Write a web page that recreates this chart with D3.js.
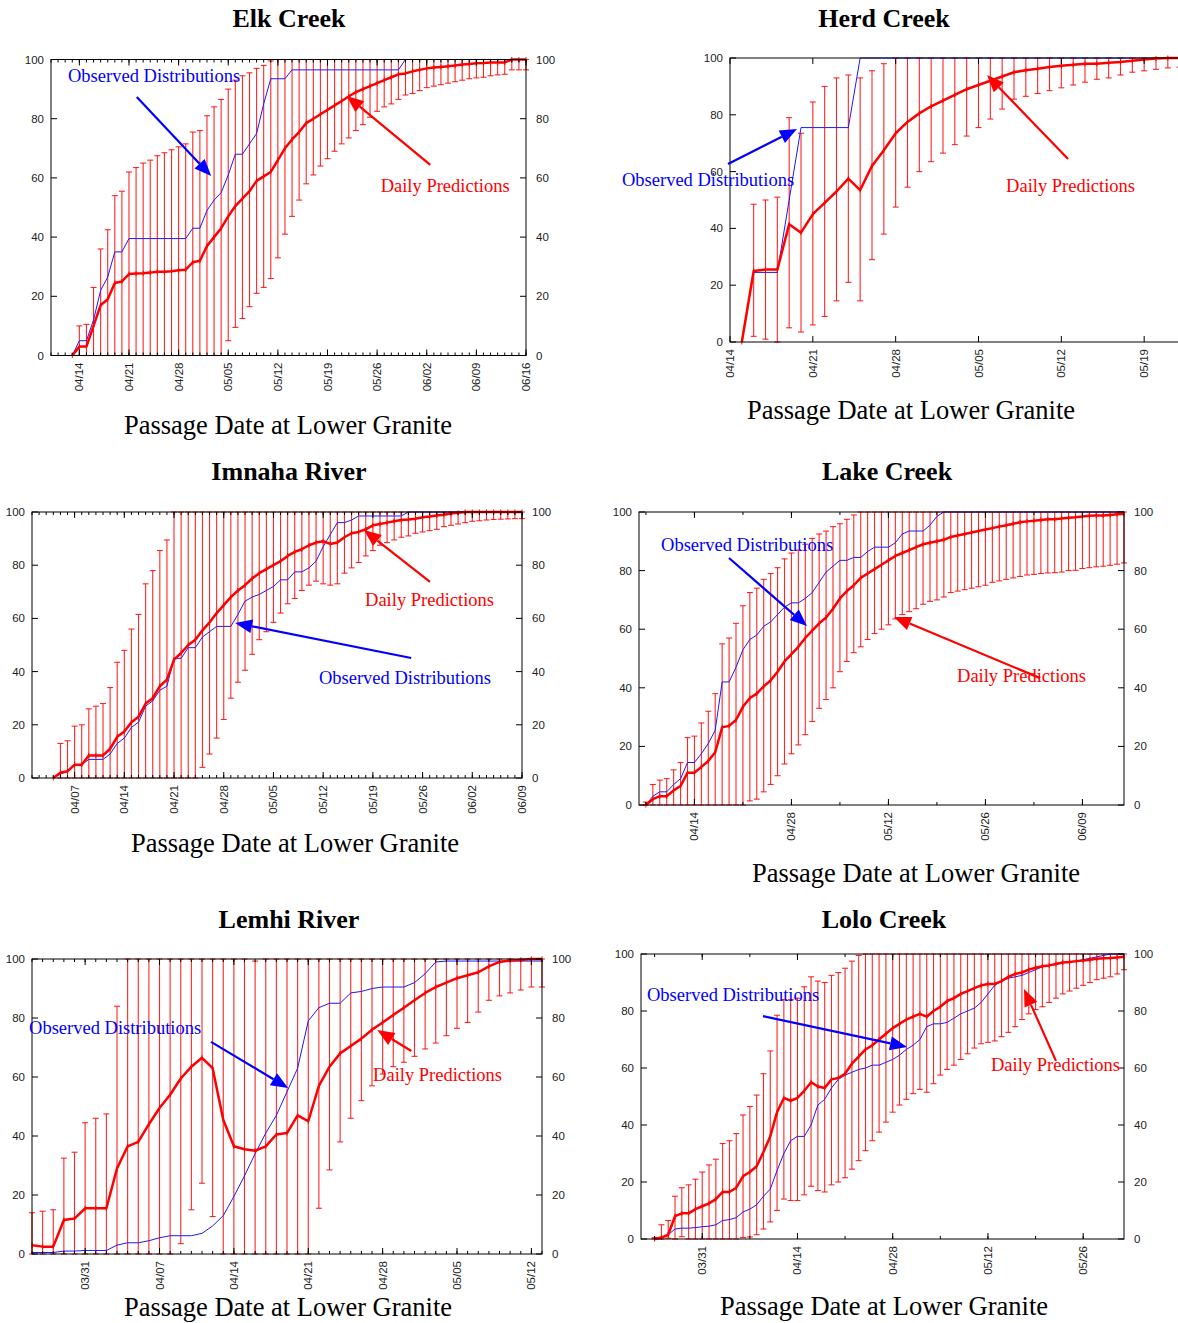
<!DOCTYPE html>
<html><head><meta charset="utf-8">
<script src="https://cdn.jsdelivr.net/npm/d3@7"></script>
<style>body{margin:0;background:#fff;overflow:hidden} svg{display:block}</style>
</head><body><svg id="c" width="1178" height="1323"></svg>
<script>
// ---------------- DATA ----------------
const yTicks = [0, 20, 40, 60, 80, 100];

// Elk Creek (daily from 04/13)
const elkStart = "04/13";
const elkTicks = ["04/14","04/21","04/28","05/05","05/12","05/19","05/26","06/02","06/09","06/16"];
const elkPred = [0,3,3,10,17,19,24.5,25,27.5,27.7,27.8,28,28.3,28.3,28.5,28.8,29,31.5,
  32,37,40,43,47,50.5,53,55.5,59,60.5,62,66,70,73,75.5,78.5,80,81.5,83,84.5,86,87.5,89,90,91,92,93,94,95,95.3,96,
  96.5,97,97.3,97.5,97.7,98,98.3,98.5,98.7,98.8,99,99,99,100,100,100];
const elkUpper = [0,10,10.5,23,36,42.5,54,55.5,62,63.5,65,66,67.5,68.5,69.5,70.5,71.5,75.5,
  76,81,84,86.5,90,93,94.5,95.5,97,98,99.5,100,100,100,100,100,100,100,100,100,100,100,100,100,100,100,100,100,100,100,100,
  100,100,100,100,100,100,100,100,100,100,100,100,100,100,100,100];
const elkLower = [0,0,0,0,0,0,0,0,0,0,0,0,0,0,0,0,0,0,
  0,0,0,0,5,9.5,12.5,16.5,21,23,26,33,41,47,52.5,58,61,64,66.5,69,71.5,73.5,76,78,80.5,82.5,84,85,86.5,88,88.5,
  89.5,90.5,91,91.5,92,92.5,93,93.5,93.8,94,94.5,94.8,95,96.5,96.5,96.5];
const elkObs = [0,5,5,12,22,26.5,35,35,39.5,39.5,39.5,39.5,39.5,39.5,39.5,39.5,39.5,43,
  43,49,52.5,55,61,68,68,71.5,75,85,93.5,93.5,93.5,96.5,96.5,96.5,96.5,96.5,96.5,96.5,96.5,96.5,96.5,96.5,96.5,96.5,96.5,96.5,96.5,100,100,
  100,100,100,100,100,100,100,100,100,100,100,100,100,100,100,100];

// Herd Creek (daily from 04/15)
const herdStart = "04/15";
const herdTicks = ["04/14","04/21","04/28","05/05","05/12","05/19","05/26"];
const herdPred = [0,25,25.5,25.5,41.5,38.5,45,49,53,57.5,53.5,62,67.5,73.5,77.5,80.5,
  83,85,87,89,90.5,92,93.5,95,95.7,96.2,96.8,97.3,97.6,98,98,98.3,98.6,99,99.5,99.8,100,100];
const herdUpper = [0,48.5,50,51,79,73.5,84.5,90,93,94,93,95.5,98,100,100,100,
  100,100,100,100,100,100,100,100,100,100,100,100,100,100,100,100,100,100,100,100,100,100];
const herdLower = [0,2,1,0,5,3.5,6,9,14.5,21,14.5,29,38,47.5,54.5,60,
  63.5,66.5,69.5,72.5,75.5,78.5,82,85.5,86.5,87.5,88.5,89.5,90.5,91.5,92.5,93,94,95,95.5,96,96.5,96.8];
const herdObs = [null,24.5,24.5,24.5,50,75.5,75.5,75.5,75.5,75.5,100,100,100,100,100,100,
  100,100,100,100,100,100,100,100,100,100,100,100,100,100,100,100,100,100,100,100,100,100];

// Imnaha River (daily from 04/04)
const imnStart = "04/04";
const imnTicks = ["04/07","04/14","04/21","04/28","05/05","05/12","05/19","05/26","06/02","06/09"];
const imnPred = [0,2,2.5,5,5,8.5,8.5,8.5,11,15.5,17.5,21,23,28,30,34.5,37,44.5,47,50,52,55.5,58.5,62,65,68,70.5,
  72.5,75,77,78.5,80,81.5,83.5,85,86,87.5,88.5,89,88,88.5,90.5,92,92.5,93.5,95,95.5,96,96.5,97,97.2,97.5,98,98.3,98.7,99,99.4,99.7,
  100,100,100,100,100,100,100,100,100];
const imnUpper = [0,13,14,19.5,20,26,27,28,34,43.5,48,56,61.5,73,78,85.5,89.5,100,100,100,100,100,100,100,100,100,100,
  100,100,100,100,100,100,100,100,100,100,100,100,100,100,100,100,100,100,100,100,100,100,100,100,100,100,100,100,100,100,100,
  100,100,100,100,100,100,100,100,100];
const imnLower = [0,0,0,0,0,0,0,0,0,0,0,0,0,0,0,0,0,0,0,0,0,4,9,15,22,30,36,
  40.5,46.5,52,55,58.5,62,65.5,67.5,70.5,72.5,74,73,72.5,73,77,79,81,83.5,85.5,87.5,88.5,89.5,90.5,91,92,92.5,93,93.5,94.5,95,95.5,
  96,96.5,96.7,97,97.2,97.3,97.4,97.5,97.5];
const imnObs = [0,1.5,2.5,5,5,7,7,7,9,13,15,19,21,27,29,33,34.5,45,45,49,49,53,55,57,57,57,61.5,
  66.5,68,69,70.5,72,74.5,74.5,77.5,77.5,79,81.5,87,91.5,96,96,97,98.5,98.5,98.5,98.5,98.5,98.5,98.5,100,100,100,100,100,100,100,100,
  100,100,100,100,100,100,100,100,100];

// Lake Creek (daily from 04/07)
const lakeStart = "04/07";
const lakeTicks = ["04/14","04/28","05/12","05/26","06/09"];
const lakePred = [0,2,3,3,5,6.5,11,11,13,15,18,26.5,27,29,33.5,36.5,38,40.5,42.5,45.5,49,51.5,54,57,
  59.5,62,64,67,70.5,73,75,77.5,79,80.5,82,83.5,85,86,87,88,89,89.5,90,90.5,91.5,92,92.5,93,93.5,94,94.5,95,95.5,96,96.5,
  96.8,97,97.3,97.5,97.5,97.8,98,98.2,98.5,98.7,98.8,98.8,99,99.2,99.3];
const lakeUpper = [1,7,8.5,9,12,14.5,23,23.5,28,32,38,55,57,62,68,72.5,74,77,79,81,84,86,87,89,
  91,92.5,93.5,95,96,97.5,99,100,100,100,100,100,100,100,100,100,100,100,100,100,100,100,100,100,100,100,100,100,100,100,100,
  100,100,100,100,100,100,100,100,100,100,100,100,100,100,100];
const lakeLower = [0,0,0,0,0,0,0,0,0,0,0,0,0,0,0,1.4,2,4.5,7,10,14,17.5,20.5,24,
  28.5,33,36,40,45.5,49,52,54,56.5,58.5,60,61.5,63.5,65,66,67,68.5,69.5,70,71,72.5,73,73.5,74,74.5,75,76,76.5,77,77.5,78,
  78.5,78.7,79,79.2,79.3,79.5,80,80.1,80.7,81,81.3,81.5,81.8,82.2,82.6];
const lakeObs = [0,3,4.5,4.5,7,9,14.5,14.5,17.5,21,25.5,42,42,47,53,56.5,58,61,62.5,65,67.5,69,69,70.5,
  72.5,76,79.5,81.5,83.5,83.5,84.5,84.5,86.5,88,88,88,89.5,92.5,93.5,93.5,93.5,95.5,98.5,100,100,100,100,100,100,100,100,100,100,100,100,
  100,100,100,100,100,100,100,100,100,100,100,100,100,100,100];

// Lemhi River (daily from 03/26)
const lemStart = "03/26";
const lemTicks = ["03/31","04/07","04/14","04/21","04/28","05/05","05/12"];
const lemPred = [3,2.5,2.5,11.5,12,15.5,
  15.5,15.5,29,36.5,38,44,49.5,54,59.5,63.5,66.5,63,45.5,36.5,35.5,35,36.5,40.5,41,47,45,57,63.5,68,70.5,73,76,78.5,81,83.5,
  86,88.5,90.5,92,93.5,94.5,95.5,97.5,99,99.5,99.7,100,100];
const lemUpper = [14,14.5,15,32.5,34.5,44.5,
  46,47.5,84,100,100,100,100,100,100,100,100,100,100,100,100,99.3,100,100,100,100,100,100,100,100,100,100,100,100,100,100,
  100,100,100,100,100,100,100,100,100,100,100,100,100];
const lemLower = [0,0,0,0,0,0,
  0,0,0,0,0,0,0,0,3.5,15,24,12.7,0,0,0,0,0,0,0,0,0,15.5,28.5,38,46,52,57,61,63.5,65,
  67,69.5,71.5,74,76.5,78.5,82,86,87.5,88.5,89.5,90.5,90.5];
const lemObs = [0.5,0.5,0.5,1,1,1.2,
  1.2,1.2,3,3.8,3.8,4.5,5.5,6.2,6.2,6.2,7,9.5,13,19.5,26.5,34,41,47,55,63,79,83.5,85,85,88.5,89,90,90.5,90.5,90.5,
  92,95,99,99.3,99.3,99.3,99.3,99.3,99.3,99.3,99.3,99.3,99.3];

// Lolo Creek (daily from 03/24)
const loloStart = "03/24";
const loloTicks = ["03/31","04/14","04/28","05/12","05/26"];
const loloPred = [0,0.5,1.5,8,9,9,10.5,11.5,
  12.5,14,16.5,16.5,18,22,23.5,25.5,30.5,36,44.5,49.5,48.5,49.5,52,55,53.5,53,56,56.5,58,61.5,64,66.5,68,70,72,74,75.5,77,
  78,79,78,80,81.5,83.5,84.5,86,87,88,89,89.5,89.5,90.5,92,93,93.5,94.5,95.2,95.7,96,96.5,97,97.2,97.5,97.7,98,98.3,98.5,98.6,98.8,
  99];
const loloUpper = [0.5,5,6.5,15,18,19,21,23.5,
  26,28,33.5,34.5,37,43.5,46.5,50.5,58,66,78.5,84,84,84.5,88.5,92,90.5,90,92.5,93.5,95,97.5,99.5,100,100,100,100,100,100,100,
  100,100,100,100,100,100,100,100,100,100,100,100,100,100,100,100,100,100,100,100,100,100,100,100,100,100,100,100,100,100,100,
  100];
const loloLower = [0,0,0.3,0,0.8,0,0,0,
  0,0,0,0,0,0.5,0.7,1.5,3.5,6,10,14,13.5,13.5,15.5,18.5,17,16.5,19,20,21.5,24.5,27.5,31,34.5,37.5,41,44.5,47,49,
  51,52.5,51.5,54.5,57.5,59.5,61,63,65,67,68.5,69,69.5,71,72.5,74.5,77,79,80.5,81.5,83,84.5,86,87,88,89,90,91,91.5,92,93,
  94.5];
const loloObs = [0,0.3,1.5,3.5,3.8,3.8,4,4.3,
  4.5,5,6.5,6.8,7.5,9.5,10.5,12,15,17.5,24,30,34.5,36,36,40,47,49,53,56,57.5,58.5,59.5,60,61,61,62,63,64.5,66.5,
  68,70,74.5,75.5,75.5,76,77.5,79,80,81,83,86,89,90.5,91.5,92,92.5,93.5,94.5,95.5,96,96.5,97,97.2,97.5,98,98.5,99,99.5,100,100,
  100];

// ---------------- LAYOUT ----------------
const W_PAGE = 1178;
const SERIF = "'Liberation Serif','Times New Roman',Times,serif";
const SANS = "'Liberation Sans',Helvetica,Arial,sans-serif";
const panels = [
  {title:"Elk Creek", tx:289, ty:18, lx:288, ly:425, box:[51,59.5,526,355.5], dom:["04/10","06/16"],
   start:elkStart, ticks:elkTicks, minor:1, pred:elkPred, up:elkUpper, lo:elkLower, obs:elkObs,
   oT:[2.4,94.4], oA:[12.1,87.3,22.6,60.6], pT:[46.5,57.3], pA:[53.5,64.4,41.7,87.7]},
  {title:"Herd Creek", tx:884, ty:18, lx:911, ly:410, box:[730,58,1227,342], dom:["04/14","05/26"],
   start:herdStart, ticks:herdTicks, minor:0, pred:herdPred, up:herdUpper, lo:herdLower, obs:herdObs,
   oT:[-9.13,57.0], oA:[-0.17,62.7,5.66,75.0], pT:[23.33,54.9], pA:[28.57,64.4,21.72,94.0]},
  {title:"Imnaha River", tx:289, ty:471, lx:295, ly:843, box:[32,512,522,778], dom:["04/01","06/09"],
   start:imnStart, ticks:imnTicks, minor:1, pred:imnPred, up:imnUpper, lo:imnLower, obs:imnObs,
   oT:[40.4,37.6], oA:[53.4,45.1,28.6,58.3], pT:[46.9,66.9], pA:[56.05,73.7,46.75,93.2]},
  {title:"Lake Creek", tx:887, ty:471, lx:916, ly:873, box:[639,512,1124,805], dom:["04/06","06/15"],
   start:lakeStart, ticks:lakeTicks, minor:7, pred:lakePred, up:lakeUpper, lo:lakeLower, obs:lakeObs,
   oT:[3.18,88.7], oA:[12.99,84.3,24.25,61.1], pT:[45.9,44.0], pA:[57.9,43.3,36.8,64.2]},
  {title:"Lemhi River", tx:289, ty:919, lx:288, ly:1307, box:[32,959,542,1254], dom:["03/26","05/13"],
   start:lemStart, ticks:lemTicks, minor:1, pred:lemPred, up:lemUpper, lo:lemLower, obs:lemObs,
   oT:[-0.28,76.6], oA:[16.85,71.9,24.1,56.3], pT:[32.1,60.7], pA:[35.7,68.8,32.5,75.9]},
  {title:"Lolo Creek", tx:884, ty:919, lx:884, ly:1306, box:[641,954,1124,1239], dom:["03/22","06/01"],
   start:loloStart, ticks:loloTicks, minor:7, pred:loloPred, up:loloUpper, lo:loloLower, obs:loloObs,
   oT:[0.88,85.6], oA:[17.93,78.2,39.1,67.4], pT:[51.45,61.05], pA:[61.0,62.5,56.3,87.7]}
];

const CUM = [0,31,59,90,120,151,181,212];
function dayNum(s){ const [m,d] = s.split("/").map(Number); return CUM[m-1] + d; }

const svg = d3.select("#c");

function arrow(g, x1, y1, x2, y2, color){
  const a = Math.atan2(y2-y1, x2-x1), L = 17, W = 7;
  const bx = x2 - L*Math.cos(a), by = y2 - L*Math.sin(a);
  g.append("line").attr("x1",x1).attr("y1",y1).attr("x2",bx).attr("y2",by)
    .attr("stroke",color).attr("stroke-width",2.2);
  g.append("path")
    .attr("d",`M${x2},${y2}L${bx+W*Math.sin(a)},${by-W*Math.cos(a)}L${bx-W*Math.sin(a)},${by+W*Math.cos(a)}Z`)
    .attr("fill",color);
}

panels.forEach(p => {
  const [x0,y0,x1,y1] = p.box;
  const d0 = dayNum(p.dom[0]), d1 = dayNum(p.dom[1]);
  const x = d3.scaleLinear().domain([d0,d1]).range([x0,x1]);
  const y = d3.scaleLinear().domain([0,100]).range([y1,y0]);
  const s0 = dayNum(p.start);
  const g = svg.append("g");

  // title & axis label
  g.append("text").attr("x",p.tx).attr("y",p.ty).attr("dy","0.33em").attr("text-anchor","middle")
    .attr("font-family",SERIF).attr("font-weight","bold").attr("font-size",26).text(p.title);
  g.append("text").attr("x",p.lx).attr("y",p.ly).attr("dy","0.33em").attr("text-anchor","middle")
    .attr("font-family",SERIF).attr("font-size",26.5).text("Passage Date at Lower Granite");

  // error bars
  const eb = g.append("g").attr("stroke","#ff0000").attr("stroke-width",1.1).attr("stroke-opacity",0.85);
  p.pred.forEach((v,i) => {
    const lo = p.lo[i], up = p.up[i];
    if (up <= lo) return;
    const xx = x(s0+i);
    eb.append("line").attr("x1",xx).attr("x2",xx).attr("y1",y(lo)).attr("y2",y(up));
    eb.append("line").attr("x1",xx-3).attr("x2",xx+3).attr("y1",y(lo)).attr("y2",y(lo));
    eb.append("line").attr("x1",xx-3).attr("x2",xx+3).attr("y1",y(up)).attr("y2",y(up));
  });

  // observed line
  g.append("path").datum(p.obs)
    .attr("d", d3.line().defined(v => v != null).x((v,i) => x(s0+i)).y(v => y(v)))
    .attr("fill","none").attr("stroke","#1a1aff").attr("stroke-width",1);

  // prediction line
  g.append("path").datum(p.pred)
    .attr("d", d3.line().x((v,i) => x(s0+i)).y(v => y(v)))
    .attr("fill","none").attr("stroke","#ff0000").attr("stroke-width",2.5).attr("stroke-linejoin","round");
  const mk = g.append("g").attr("stroke","#ff0000").attr("stroke-width",1);
  p.pred.forEach((v,i) => {
    const xx = x(s0+i), yy = y(v);
    mk.append("line").attr("x1",xx).attr("x2",xx).attr("y1",yy-2.5).attr("y2",yy+2.5);
  });

  // frame (on top of data, like the reference)
  g.append("rect").attr("x",x0).attr("y",y0).attr("width",x1-x0).attr("height",y1-y0)
    .attr("fill","none").attr("stroke","#000").attr("stroke-width",1);

  // y ticks both sides
  yTicks.forEach(t => {
    const yy = y(t);
    g.append("line").attr("x1",x0).attr("x2",x0+6).attr("y1",yy).attr("y2",yy).attr("stroke","#000");
    g.append("line").attr("x1",x1).attr("x2",x1-6).attr("y1",yy).attr("y2",yy).attr("stroke","#000");
    g.append("text").attr("x",x0-7).attr("y",yy).attr("dy","0.35em").attr("text-anchor","end")
      .attr("font-family",SANS).attr("font-size",11.5).attr("fill","#222").text(t);
    if (x1 + 10 < W_PAGE)
      g.append("text").attr("x",x1+10).attr("y",yy).attr("dy","0.35em").attr("text-anchor","start")
        .attr("font-family",SANS).attr("font-size",11.5).attr("fill","#222").text(t);
  });

  // minor x ticks
  if (p.minor > 0) {
    let first = dayNum(p.ticks[0]);
    while (first - p.minor >= d0) first -= p.minor;
    for (let d = first; d <= d1; d += p.minor) {
      const xx = x(d);
      g.append("line").attr("x1",xx).attr("x2",xx).attr("y1",y1).attr("y2",y1-3).attr("stroke","#000");
      g.append("line").attr("x1",xx).attr("x2",xx).attr("y1",y0).attr("y2",y0+3).attr("stroke","#000");
    }
  }
  // major x ticks + labels
  p.ticks.forEach(t => {
    const xx = x(dayNum(t));
    g.append("line").attr("x1",xx).attr("x2",xx).attr("y1",y1).attr("y2",y1-6).attr("stroke","#000");
    g.append("line").attr("x1",xx).attr("x2",xx).attr("y1",y0).attr("y2",y0+6).attr("stroke","#000");
    if (xx + 6 < W_PAGE)
      g.append("text").attr("transform",`translate(${xx},${y1+7}) rotate(-90)`)
        .attr("dy","0.35em").attr("text-anchor","end")
        .attr("font-family",SANS).attr("font-size",11.5).attr("fill","#222").text(t);
  });

  // annotations (positions given in data space: day offset from domain start, value)
  const ax = d => x(d0 + d);
  g.append("text").attr("x",ax(p.oT[0])).attr("y",y(p.oT[1])).attr("dy","0.32em")
    .attr("font-family",SERIF).attr("font-size",18.5).attr("fill","#0000ff").text("Observed Distributions");
  arrow(g, ax(p.oA[0]), y(p.oA[1]), ax(p.oA[2]), y(p.oA[3]), "#0000ff");
  g.append("text").attr("x",ax(p.pT[0])).attr("y",y(p.pT[1])).attr("dy","0.32em")
    .attr("font-family",SERIF).attr("font-size",18.5).attr("fill","#ff0000").text("Daily Predictions");
  arrow(g, ax(p.pA[0]), y(p.pA[1]), ax(p.pA[2]), y(p.pA[3]), "#ff0000");
});
</script>
</body></html>
